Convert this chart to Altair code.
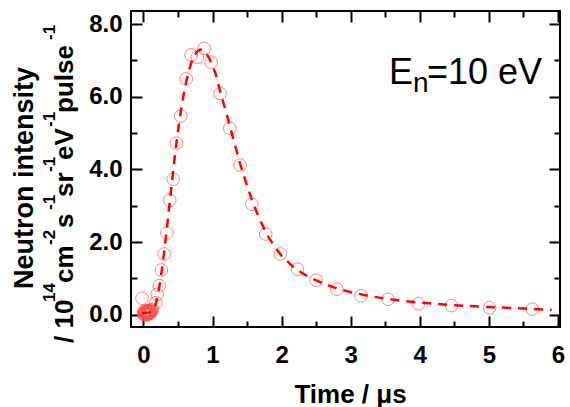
import altair as alt
import pandas as pd

# ---------------- data ----------------
# measured points (open circles)
t_pts = [0.000, 0.005, 0.010, 0.015, 0.020, 0.025, 0.030, 0.035, 0.040, 0.045,
         0.050, 0.055, 0.060, 0.065, 0.070, 0.075, 0.080, 0.085, 0.090, 0.095,
         0.100, 0.105, 0.110, 0.120, 0.130,
         -0.02, 0.18, 0.20, 0.23, 0.26, 0.30, 0.34, 0.38, 0.43, 0.48, 0.54,
         0.62, 0.69, 0.78, 0.88, 0.98, 1.11, 1.25, 1.40, 1.57, 1.77, 1.98,
         2.23, 2.50, 2.80, 3.15, 3.54, 3.98, 4.46, 5.01, 5.63]
v_pts = [0.02, 0.06, 0.00, 0.08, 0.03, 0.10, 0.01, 0.05, 0.09, 0.02,
         0.06, 0.00, 0.11, 0.04, 0.07, 0.02, 0.09, 0.05, 0.12, 0.03,
         0.08, 0.06, 0.13, 0.10, 0.15,
         0.45, 0.33, 0.56, 0.80, 1.23, 1.67, 2.25, 3.15, 3.73, 4.72, 5.47,
         6.49, 7.15, 7.09, 7.33, 6.95, 6.09, 5.13, 4.12, 3.04, 2.22, 1.67,
         1.25, 0.95, 0.70, 0.52, 0.42, 0.30, 0.25, 0.19, 0.15]

# fitted curve (dashed line)
t_fit = [-0.02, 0.00, 0.04, 0.08, 0.12, 0.15, 0.18, 0.21, 0.24, 0.27, 0.30,
         0.34, 0.38, 0.42, 0.46, 0.50, 0.54, 0.58, 0.62, 0.66, 0.70, 0.74,
         0.78, 0.82, 0.86, 0.90, 0.95, 1.00, 1.05, 1.10, 1.20, 1.30, 1.40,
         1.50, 1.60, 1.70, 1.80, 1.90, 2.00, 2.20, 2.40, 2.60, 2.80, 3.00,
         3.25, 3.50, 3.75, 4.00, 4.50, 5.00, 5.50, 5.91]
v_fit = [0.03, 0.04, 0.05, 0.06, 0.08, 0.14, 0.30, 0.55, 0.88, 1.28, 1.72,
         2.38, 3.08, 3.78, 4.45, 5.05, 5.58, 6.04, 6.42, 6.73, 6.97, 7.14,
         7.25, 7.30, 7.29, 7.22, 7.07, 6.86, 6.60, 6.22, 5.55, 4.85, 4.15,
         3.55, 3.00, 2.55, 2.17, 1.87, 1.62, 1.26, 1.03, 0.86, 0.72, 0.62,
         0.52, 0.44, 0.38, 0.33, 0.26, 0.21, 0.17, 0.13]

x_tick_values = [0, 0.5, 1, 1.5, 2, 2.5, 3, 3.5, 4, 4.5, 5, 5.5, 6]
y_tick_values = [0, 1, 2, 3, 4, 5, 6, 7, 8]
x_label_values = [0, 1, 2, 3, 4, 5, 6]
y_label_values = [0, 2, 4, 6, 8]

x_title = "Time / μs"
y_title_line1 = "Neutron intensity"
# second title line: (text, is_superscript)
y_title_line2 = [("/ 10", False), ("14", True), ("cm", False), ("-2", True),
                 ("s", False), ("-1", True), ("sr", False), ("-1", True),
                 ("eV", False), ("-1", True), ("pulse", False), ("-1", True)]

# ---------------- layout ----------------
W, H = 429, 316
XDOM = [-0.18, 6.03]
YDOM = [-0.34, 8.36]
FONT = "Liberation Sans"

# start positions (plot-relative, going upward) of the second title line pieces
LINE2_START = [332, 291, 272, 234, 217, 199, 186, 161, 149, 116, 102, 29]
BASE_X, SUP_X = -58, -76

pts = pd.DataFrame({"t": t_pts, "v": v_pts})
fit = pd.DataFrame({"t": t_fit, "v": v_fit})
one = pd.DataFrame({"k": [0]})

xs = alt.Scale(domain=XDOM, nice=False, zero=False)
ys = alt.Scale(domain=YDOM, nice=False, zero=False)

dash_x = alt.condition("datum.value % 1 === 0", alt.value([20, 0]), alt.value([6, 30]))
dash_y = alt.condition("datum.value % 2 === 0", alt.value([20, 0]), alt.value([6, 30]))


def tick_axis(orient, offset, values, dash):
    return alt.Axis(orient=orient, offset=offset, values=values, labels=False,
                    domain=False, grid=False, title=None, ticks=True,
                    tickSize=11, tickWidth=2, tickColor="black", tickDash=dash)


label_x_axis = alt.Axis(
    orient="bottom", values=x_label_values, format="d", ticks=False, tickSize=0,
    domain=False, grid=False, labelFont=FONT, labelFontWeight="bold",
    labelFontSize=24, labelColor="black", labelPadding=16, labelFlush=False,
    title=x_title, titleFont=FONT, titleFontWeight="bold", titleFontSize=26,
    titleColor="black", titleX=219, titleY=75, titleBaseline="alphabetic",
    titleAlign="center", titleAngle=0,
)
label_y_axis = alt.Axis(
    orient="left", values=y_label_values, format=".1f", ticks=False, tickSize=0,
    domain=False, grid=False, labelFont=FONT, labelFontWeight="bold",
    labelFontSize=24, labelColor="black", labelPadding=9, labelFlush=False,
    title=None,
)

points = alt.Chart(pts).mark_point(
    shape="circle", filled=False, size=160, stroke="#ff4d4d", strokeWidth=1
).encode(
    x=alt.X("t:Q", scale=xs, axis=tick_axis("top", -H, x_tick_values, dash_x)),
    y=alt.Y("v:Q", scale=ys, axis=tick_axis("right", -W, y_tick_values, dash_y)),
)

ghost = alt.Chart(pts).mark_point(opacity=0).encode(
    x=alt.X("t:Q", scale=xs, axis=tick_axis("bottom", -H, x_tick_values, dash_x)),
    y=alt.Y("v:Q", scale=ys, axis=tick_axis("left", -W, y_tick_values, dash_y)),
)

line = alt.Chart(fit).mark_line(
    color="#ff0000", strokeWidth=2.5, strokeDash=[9, 7]
).encode(
    x=alt.X("t:Q", scale=xs, axis=label_x_axis),
    y=alt.Y("v:Q", scale=ys, axis=label_y_axis),
)


def txt(text, x, y, size, angle=0, align="left", weight="normal"):
    kw = dict(text=text, font=FONT, fontSize=size, align=align,
              baseline="alphabetic", color="black", fontWeight=weight)
    if angle:
        kw["angle"] = angle
    return alt.Chart(one).mark_text(**kw).encode(x=alt.value(x), y=alt.value(y))


texts = [
    txt("E", 258, 73, 36),
    txt("n", 282, 81, 28),
    txt("=10 eV", 296, 73, 36),
    txt(y_title_line1, -98, 167, 27, angle=270, align="center", weight="bold"),
]
for (piece, sup), start in zip(y_title_line2, LINE2_START):
    texts.append(txt(piece, SUP_X if sup else BASE_X, start, 17 if sup else 26,
                     angle=270, align="left", weight="bold"))

chart = alt.layer(points, line, ghost, *texts).resolve_axis(
    x="independent", y="independent"
).properties(
    width=W, height=H,
    autosize=alt.AutoSizeParams(type="none"),
    padding={"left": 131, "top": 11, "right": 10, "bottom": 80},
    background="white",
).configure_view(stroke="black", strokeWidth=2)

chart.save("out.html", embed_options={"renderer": "svg", "actions": False})
